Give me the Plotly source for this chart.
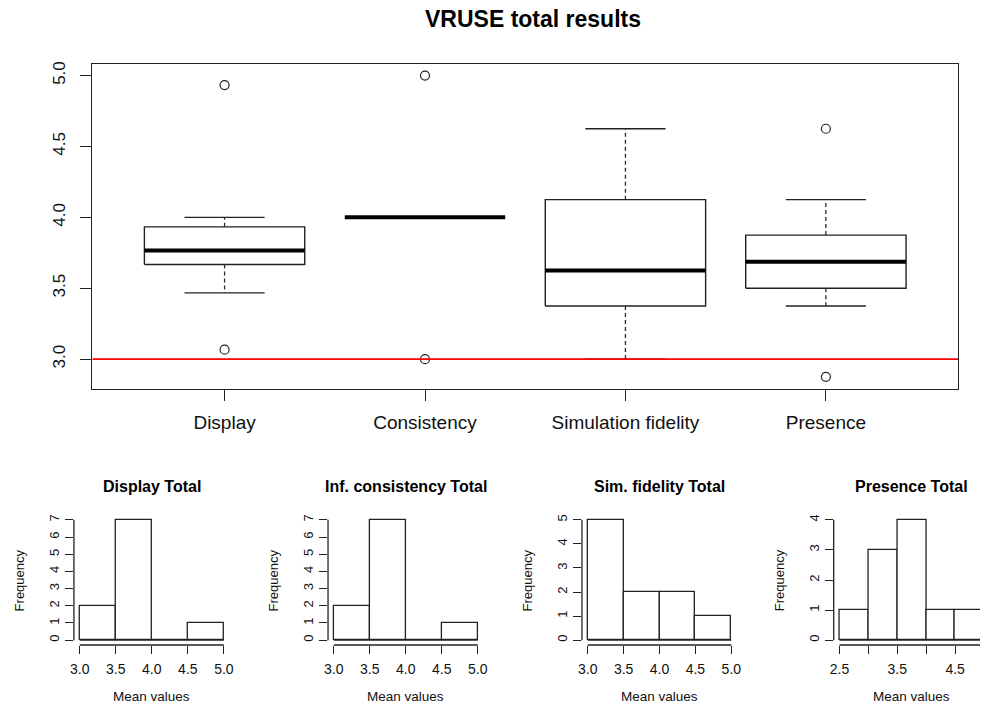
import plotly.graph_objects as go

W, H = 984, 707
FONT = "Liberation Sans, Arial, sans-serif"
INK = "#111111"

# ---- Box plot: mean item scores per VRUSE scale ----
categories = ["Display", "Consistency", "Simulation fidelity", "Presence"]
lower_whisker = [3.467, 4.0, 3.0, 3.375]
q1 = [3.667, 4.0, 3.375, 3.5]
median = [3.767, 4.0, 3.625, 3.6875]
q3 = [3.933, 4.0, 4.125, 3.875]
upper_whisker = [4.0, 4.0, 4.625, 4.125]
outliers = [[3.067, 4.933], [3.0, 5.0], [], [2.875, 4.625]]
threshold = 3.0
y_ticks = [3.0, 3.5, 4.0, 4.5, 5.0]

# ---- Histograms of the scale totals ----
hist_titles = ["Display Total", "Inf. consistency Total", "Sim. fidelity Total", "Presence Total"]
hist_breaks = [
    [3.0, 3.5, 4.0, 4.5, 5.0],
    [3.0, 3.5, 4.0, 4.5, 5.0],
    [3.0, 3.5, 4.0, 4.5, 5.0],
    [2.5, 3.0, 3.5, 4.0, 4.5, 5.0],
]
hist_counts = [
    [2, 7, 0, 1],
    [2, 7, 0, 1],
    [5, 2, 2, 1],
    [1, 3, 4, 1, 1],
]
hist_ticklabels = [
    ["3.0", "3.5", "4.0", "4.5", "5.0"],
    ["3.0", "3.5", "4.0", "4.5", "5.0"],
    ["3.0", "3.5", "4.0", "4.5", "5.0"],
    ["2.5", "", "3.5", "", "4.5", ""],
]


def px(x):
    return x / W


def py(y):
    return 1 - y / H


fig = go.Figure()

# --- boxes ---
half = 0.4
cap = 0.2
bx, by, mx, my, wx, wy, sx, sy, ox, oy = ([] for _ in range(10))
for i in range(len(categories)):
    c = i + 1
    bx += [c - half, c + half, c + half, c - half, c - half, None]
    by += [q1[i], q1[i], q3[i], q3[i], q1[i], None]
    mx += [c - half, c + half, None]
    my += [median[i], median[i], None]
    wx += [c, c, None, c, c, None]
    wy += [q3[i], upper_whisker[i], None, q1[i], lower_whisker[i], None]
    sx += [c - cap, c + cap, None, c - cap, c + cap, None]
    sy += [upper_whisker[i], upper_whisker[i], None, lower_whisker[i], lower_whisker[i], None]
    for v in outliers[i]:
        ox.append(c)
        oy.append(v)

x_range = [0.34, len(categories) + 0.66]

fig.add_trace(go.Scatter(x=wx, y=wy, mode="lines", line=dict(color="#2a2a2a", width=1.3, dash="4px,3px"),
                         hoverinfo="skip", showlegend=False))
fig.add_trace(go.Scatter(x=sx, y=sy, mode="lines", line=dict(color="#222222", width=1.4),
                         hoverinfo="skip", showlegend=False))
fig.add_trace(go.Scatter(x=bx, y=by, mode="lines", line=dict(color="#222222", width=1.4),
                         hoverinfo="skip", showlegend=False))
fig.add_trace(go.Scatter(x=mx, y=my, mode="lines", line=dict(color="#000000", width=4),
                         hoverinfo="skip", showlegend=False))
fig.add_trace(go.Scatter(x=ox, y=oy, mode="markers",
                         marker=dict(symbol="circle-open", size=9, color="#222222", line=dict(width=1.2)),
                         hoverinfo="skip", showlegend=False))
# reference level drawn over the boxes, across the whole panel
fig.add_trace(go.Scatter(x=x_range, y=[threshold, threshold], mode="lines",
                         line=dict(color="#ff0000", width=1.8),
                         hoverinfo="skip", showlegend=False))

ylo = min(min(lower_whisker), min(v for o in outliers for v in o))
yhi = max(max(upper_whisker), max(v for o in outliers for v in o))
ypad = 0.04 * (yhi - ylo)

fig.update_layout(
    xaxis=dict(domain=[px(89), px(962)], range=x_range,
               tickvals=list(range(1, len(categories) + 1)), ticktext=categories,
               ticks="outside", ticklen=11, tickwidth=1.3, tickcolor="#222",
               showline=True, linecolor="#222", linewidth=1.4, mirror=True,
               showgrid=False, zeroline=False, ticklabelstandoff=5,
               tickfont=dict(family=FONT, size=19, color=INK), anchor="y"),
    yaxis=dict(domain=[py(388), py(61.7)], range=[ylo - ypad, yhi + ypad],
               tickvals=y_ticks, ticktext=[f"{v:.1f}" for v in y_ticks], tickangle=-90,
               ticks="outside", ticklen=11, tickwidth=1.3, tickcolor="#222",
               showline=True, linecolor="#222", linewidth=1.4, mirror=True,
               showgrid=False, zeroline=False, ticklabelstandoff=8,
               tickfont=dict(family=FONT, size=17, color=INK), anchor="x"),
)

fig.add_annotation(text="VRUSE total results", xref="paper", yref="paper", x=px(533), y=py(17),
                   xanchor="center", yanchor="middle", showarrow=False,
                   font=dict(family=FONT, size=23, color="#000", weight="bold"))

# --- histograms ---
# left/right edge of each panel's plotting region in pixels
panel_left = [70.5, 326.7, 582.7, 836.5]
panel_right = [227.5, 483.5, 739.1, 984.0]
hist_top, hist_bottom = 514.5, 644.8
last_panel_scale = 58.3  # px per unit for the panel that runs past the page edge

for k in range(4):
    n = k + 2
    br = hist_breaks[k]
    cnt = hist_counts[k]
    mids = [(br[j] + br[j + 1]) / 2 for j in range(len(cnt))]
    widths = [br[j + 1] - br[j] for j in range(len(cnt))]
    fig.add_trace(go.Bar(x=mids, y=cnt, width=widths, xaxis=f"x{n}", yaxis=f"y{n}",
                         marker=dict(color="white", line=dict(color="#222222", width=1.3)),
                         hoverinfo="skip", showlegend=False))
    span = br[-1] - br[0]
    x0 = br[0] - 0.04 * span
    if k == 3:
        x1 = x0 + (panel_right[k] - panel_left[k]) / last_panel_scale
    else:
        x1 = br[-1] + 0.04 * span
    ymax = max(cnt)
    fig.update_layout(**{
        f"xaxis{n}": dict(domain=[px(panel_left[k]), px(panel_right[k])], range=[x0, x1],
                          tickvals=br, ticktext=hist_ticklabels[k], anchor=f"y{n}",
                          ticks="outside", ticklen=8, tickwidth=1.2, tickcolor="#222",
                          showline=False, showgrid=False, zeroline=False, ticklabelstandoff=3,
                          tickfont=dict(family=FONT, size=14, color=INK)),
        f"yaxis{n}": dict(domain=[py(hist_bottom), py(hist_top)], range=[-0.04 * ymax, 1.04 * ymax],
                          tickvals=list(range(0, ymax + 1)), tickangle=-90, anchor=f"x{n}",
                          ticks="outside", ticklen=8, tickwidth=1.2, tickcolor="#222",
                          showline=False, showgrid=False, zeroline=False, ticklabelstandoff=1,
                          tickfont=dict(family=FONT, size=13, color=INK)),
    })
    # axis lines spanning the tick range, plus the bar baseline
    fig.add_shape(type="line", xref=f"x{n}", yref=f"y{n} domain", x0=br[0], x1=br[-1], y0=0, y1=0,
                  line=dict(color="#222", width=1.3))
    fig.add_shape(type="line", xref=f"x{n} domain", yref=f"y{n}", x0=0, x1=0, y0=0, y1=ymax,
                  line=dict(color="#222", width=1.3))
    fig.add_shape(type="line", xref=f"x{n}", yref=f"y{n}", x0=br[0], x1=br[-1], y0=0, y1=0,
                  line=dict(color="#222", width=1.3))

    full_right = panel_left[k] + (br[-1] + 0.04 * span - x0) * (panel_right[k] - panel_left[k]) / (x1 - x0)
    cx = (panel_left[k] + full_right) / 2
    fig.add_annotation(text=hist_titles[k], xref="paper", yref="paper", x=px(cx), y=py(486),
                       xanchor="center", yanchor="middle", showarrow=False,
                       font=dict(family=FONT, size=16, color="#000", weight="bold"))
    fig.add_annotation(text="Mean values", xref="paper", yref="paper", x=px(cx), y=py(696.5),
                       xanchor="center", yanchor="middle", showarrow=False,
                       font=dict(family=FONT, size=13.5, color=INK))
    fig.add_annotation(text="Frequency", xref="paper", yref="paper", x=px(panel_left[k] - 55),
                       y=py((hist_top + hist_bottom) / 2), textangle=-90,
                       xanchor="center", yanchor="middle", showarrow=False,
                       font=dict(family=FONT, size=13, color=INK))

fig.update_layout(width=W, height=H, margin=dict(l=0, r=0, t=0, b=0),
                  paper_bgcolor="white", plot_bgcolor="white", bargap=0)

fig.write_html("out.html")
